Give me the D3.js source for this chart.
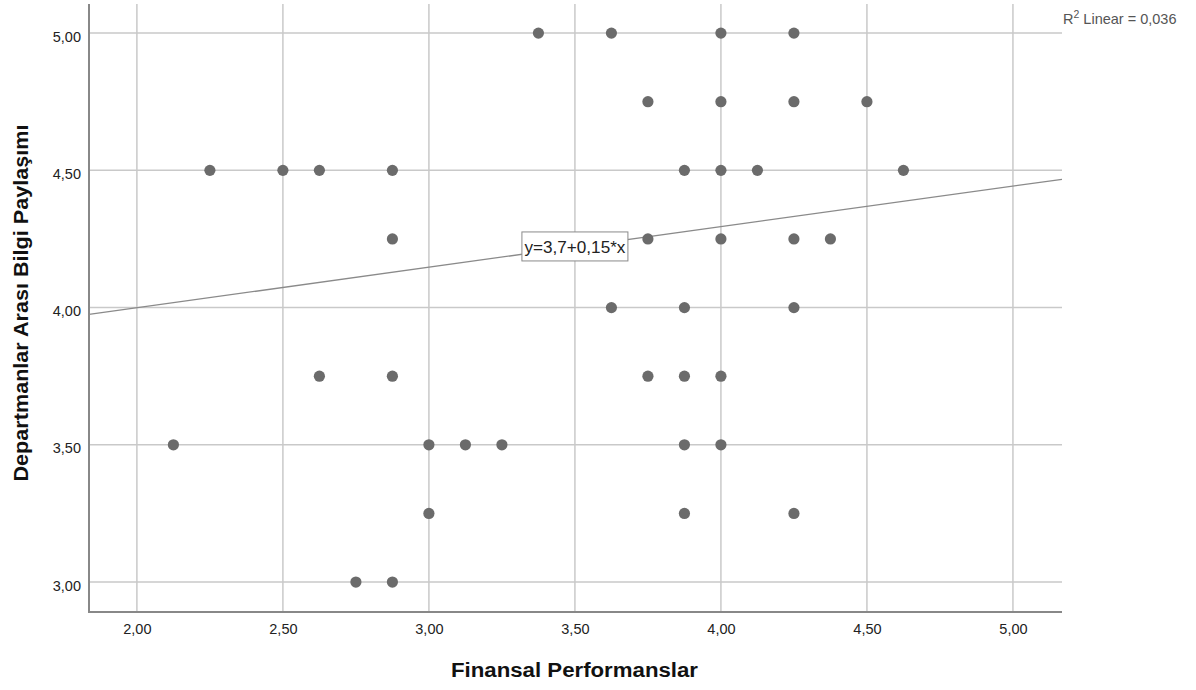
<!DOCTYPE html>
<html><head><meta charset="utf-8">
<script src="https://cdn.jsdelivr.net/npm/d3@7"></script>
<style>body{margin:0;background:#fff}svg{display:block}text{font-family:Arial,"Liberation Sans",sans-serif}</style>
</head><body><svg id="c" width="1196" height="690"></svg>
<script>
const xValues = [3.375,3.625,4.00,4.25, 3.75,4.00,4.25,4.50, 2.25,2.50,2.625,2.875,3.875,4.00,4.125,4.625, 2.875,3.75,4.00,4.25,4.375, 3.625,3.875,4.25, 2.625,2.875,3.75,3.875,4.00, 2.125,3.00,3.125,3.25,3.875,4.00, 3.00,3.875,4.25, 2.75,2.875];
const yValues = [5,5,5,5, 4.75,4.75,4.75,4.75, 4.5,4.5,4.5,4.5,4.5,4.5,4.5,4.5, 4.25,4.25,4.25,4.25,4.25, 4,4,4, 3.75,3.75,3.75,3.75,3.75, 3.5,3.5,3.5,3.5,3.5,3.5, 3.25,3.25,3.25, 3,3];
const xTicks = [2.0,2.5,3.0,3.5,4.0,4.5,5.0];
const yTicks = [3.0,3.5,4.0,4.5,5.0];
const fitIntercept = 3.704, fitSlope = 0.1477;
const fitLabel = "y=3,7+0,15*x";
const r2Label = "0,036";
const xTitle = "Finansal Performanslar";
const yTitle = "Departmanlar Arası Bilgi Paylaşımı";

const svg = d3.select("#c");
const L=89, R=1062, T=4, B=612;
const x = d3.scaleLinear().domain([1.836,5.168]).range([L,R]);
const y = d3.scaleLinear().domain([2.891,5.106]).range([B,T]);
const fmt = d => d.toFixed(2).replace(".", ",");

// gridlines
svg.append("g").selectAll("line").data(xTicks).join("line")
  .attr("x1",d=>x(d)).attr("x2",d=>x(d)).attr("y1",T).attr("y2",B)
  .attr("stroke","#c9c9c9").attr("stroke-width",1.5);
svg.append("g").selectAll("line").data(yTicks).join("line")
  .attr("x1",L).attr("x2",R).attr("y1",d=>y(d)).attr("y2",d=>y(d))
  .attr("stroke","#c9c9c9").attr("stroke-width",1.5);

// axes
const xa = svg.append("g").attr("transform",`translate(0,${B})`)
  .call(d3.axisBottom(x).tickValues(xTicks).tickFormat(fmt).tickSize(0).tickPadding(12));
const ya = svg.append("g").attr("transform",`translate(${L},0)`)
  .call(d3.axisLeft(y).tickValues(yTicks).tickFormat(fmt).tickSize(0).tickPadding(8));
[xa,ya].forEach(g=>{g.select(".domain").remove();
  g.selectAll("text").attr("font-size",14.5).attr("fill","#222").attr("font-family","Arial,'Liberation Sans',sans-serif");});
ya.selectAll("text").attr("dy","0.55em");
svg.append("line").attr("x1",L).attr("x2",L).attr("y1",T).attr("y2",B+1).attr("stroke","#888").attr("stroke-width",2);
svg.append("line").attr("x1",L-1).attr("x2",R).attr("y1",B).attr("y2",B).attr("stroke","#888").attr("stroke-width",2);

// fit line
svg.append("line")
  .attr("x1",x(x.domain()[0])).attr("y1",y(fitIntercept+fitSlope*x.domain()[0]))
  .attr("x2",x(x.domain()[1])).attr("y2",y(fitIntercept+fitSlope*x.domain()[1]))
  .attr("stroke","#8a8a8a").attr("stroke-width",1.3);

// points
svg.append("g").selectAll("circle").data(xValues.map((v,i)=>[v,yValues[i]])).join("circle")
  .attr("cx",d=>x(d[0])).attr("cy",d=>y(d[1])).attr("r",5.6).attr("fill","#6b6b6b");

// fit label
const lx = x(3.5), ly = y(fitIntercept+fitSlope*3.5);
svg.append("rect").attr("x",lx-53).attr("y",ly-15).attr("width",106).attr("height",29)
  .attr("fill","#fff").attr("stroke","#8a8a8a").attr("stroke-width",1);
svg.append("text").attr("x",lx).attr("y",ly+6).attr("text-anchor","middle").attr("font-size",16.5)
  .attr("textLength",101).attr("lengthAdjust","spacingAndGlyphs").attr("fill","#222").text(fitLabel);

// R2 label
const r2 = svg.append("text").attr("x",1063).attr("y",24).attr("font-size",14.5).attr("fill","#555");
r2.append("tspan").text("R");
r2.append("tspan").attr("font-size",10.5).attr("dy",-6).text("2");
r2.append("tspan").attr("dy",6).text(" Linear = "+r2Label);

// titles
svg.append("text").attr("x",574.5).attr("y",677).attr("text-anchor","middle")
  .attr("font-size",20).attr("font-weight","bold").attr("fill","#111")
  .attr("textLength",247).attr("lengthAdjust","spacingAndGlyphs").text(xTitle);
svg.append("text").attr("transform",`translate(28,303) rotate(-90)`).attr("text-anchor","middle")
  .attr("font-size",20).attr("font-weight","bold").attr("fill","#111")
  .attr("textLength",357).attr("lengthAdjust","spacingAndGlyphs").text(yTitle);
</script></body></html>
